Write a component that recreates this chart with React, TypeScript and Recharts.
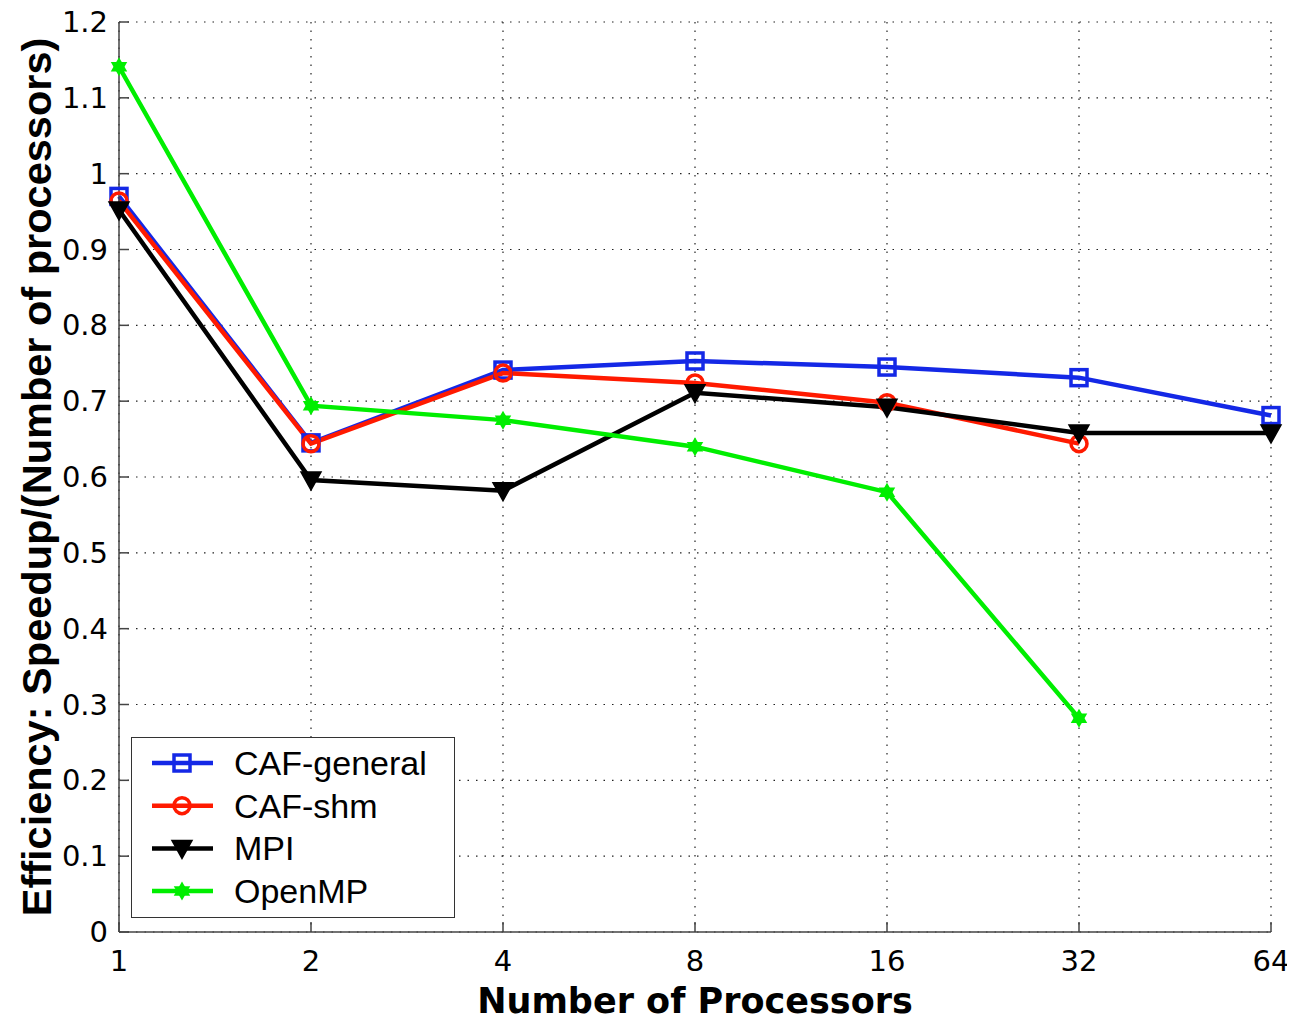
import React from "react";
import { LineChart, Line, XAxis, YAxis, CartesianGrid } from "recharts";

const procs = [1, 2, 4, 8, 16, 32, 64];
const cafGeneral = [0.97, 0.645, 0.741, 0.753, 0.745, 0.731, 0.681];
const cafShm = [0.964, 0.644, 0.737, 0.724, 0.698, 0.644, null];
const mpi = [0.952, 0.596, 0.582, 0.711, 0.692, 0.658, 0.658];
const openmp = [1.141, 0.694, 0.675, 0.64, 0.58, 0.282, null];
const yTicks = [0, 0.1, 0.2, 0.3, 0.4, 0.5, 0.6, 0.7, 0.8, 0.9, 1, 1.1, 1.2];

const C = { blue: "#1428e6", red: "#ff1a00", black: "#000", green: "#00ee00", axis: "#444", grid: "#222" };

const data = procs.map((p, i) => ({
  i,
  cafGeneral: cafGeneral[i],
  cafShm: cafShm[i],
  mpi: mpi[i],
  openmp: openmp[i],
}));

const TICK_FONT = "'DejaVu Sans', sans-serif";

// marker shapes, MATLAB style
function marker(kind: string, color: string, cx: number, cy: number, key?: any) {
  if (kind === "square")
    return <rect key={key} x={cx - 8} y={cy - 8} width={16} height={16} fill="none" stroke={color} strokeWidth={3.5} />;
  if (kind === "circle")
    return <circle key={key} cx={cx} cy={cy} r={8} fill="none" stroke={color} strokeWidth={3.5} />;
  if (kind === "tri")
    return <path key={key} d={`M${cx - 10},${cy - 8} L${cx + 10},${cy - 8} L${cx},${cy + 10} Z`} fill={color} stroke={color} strokeWidth={1.5} />;
  // hexagram
  const r = 9.5;
  const pts = (off: number) =>
    [0, 1, 2].map((k) => {
      const a = off + (k * 2 * Math.PI) / 3;
      return `${cx + r * Math.cos(a)},${cy + r * Math.sin(a)}`;
    }).join(" ");
  return (
    <g key={key}>
      <polygon points={pts(-Math.PI / 2)} fill={color} />
      <polygon points={pts(Math.PI / 2)} fill={color} />
    </g>
  );
}

const dot = (kind: string, color: string) => (props: any) => {
  const { cx, cy, index } = props;
  if (cx == null || cy == null || isNaN(cy)) return <g key={index} />;
  return marker(kind, color, cx, cy, index);
};

const YTick = (props: any) => {
  const { x, y, payload } = props;
  return (
    <g>
      <line x1={x} x2={x + 10} y1={y} y2={y} stroke={C.axis} strokeWidth={1.5} />
      <text x={x - 11} y={y} textAnchor="end" dominantBaseline="central" fontFamily={TICK_FONT} fontSize={29} fill="#000">
        {payload.value}
      </text>
    </g>
  );
};

const YTickRight = (props: any) => {
  const { x, y } = props;
  return <line x1={x - 10} x2={x} y1={y} y2={y} stroke={C.axis} strokeWidth={1.5} />;
};

const XTick = (props: any) => {
  const { x, y, payload } = props;
  return (
    <g>
      <line x1={x} x2={x} y1={y} y2={y - 10} stroke={C.axis} strokeWidth={1.5} />
      <text x={x} y={y + 29} textAnchor="middle" dominantBaseline="central" fontFamily={TICK_FONT} fontSize={29} fill="#000">
        {procs[payload.value]}
      </text>
    </g>
  );
};

const XTickTop = (props: any) => {
  const { x, y } = props;
  return <line x1={x} x2={x} y1={y} y2={y + 10} stroke={C.axis} strokeWidth={1.5} />;
};

const legendItems = [
  { name: "CAF-general", color: C.blue, kind: "square" },
  { name: "CAF-shm", color: C.red, kind: "circle" },
  { name: "MPI", color: C.black, kind: "tri" },
  { name: "OpenMP", color: C.green, kind: "star" },
];

function LegendBox() {
  return (
    <div
      style={{
        position: "absolute",
        left: 123,
        top: 737,
        width: 324,
        height: 181,
        border: "1.5px solid #333",
        boxSizing: "border-box",
        background: "#fff",
      }}
    >
      <svg width={321} height={178}>
        {legendItems.map((it, k) => {
          const cy = 25 + k * 42.7;
          return (
            <g key={it.name}>
              <line x1={20} x2={81} y1={cy} y2={cy} stroke={it.color} strokeWidth={4.5} />
              {marker(it.kind, it.color, 50, cy)}
              <text x={102} y={cy} dominantBaseline="central" fontFamily="'Liberation Sans', Arial, sans-serif" fontSize={34} fill="#000">
                {it.name}
              </text>
            </g>
          );
        })}
      </svg>
    </div>
  );
}

const YLabel = (props: any) => {
  const { viewBox } = props;
  const cx = 28;
  const cy = viewBox.y + viewBox.height / 2;
  return (
    <text
      x={cx}
      y={cy}
      transform={`rotate(-90 ${cx} ${cy})`}
      textAnchor="middle"
      dominantBaseline="central"
      fontFamily="'Liberation Sans', Arial, sans-serif"
      fontWeight={700}
      fontSize={41.5}
      fill="#000"
    >
      Efficiency: Speedup/(Number of processors)
    </text>
  );
};

export default function App() {
  return (
    <div style={{ position: "relative", width: 1287, height: 1021, marginTop: -8, background: "#fff" }}>
      <LineChart
        width={1287}
        height={1021}
        data={data}
        margin={{ top: 22, right: 24, left: 0, bottom: 8 }}
      >
        <CartesianGrid stroke={C.grid} strokeDasharray="1.5 7" strokeWidth={1.2} />
        <XAxis
          dataKey="i"
          type="number"
          domain={[0, 6]}
          ticks={[0, 1, 2, 3, 4, 5, 6]}
          height={81}
          tick={<XTick />}
          tickLine={false}
          tickSize={0}
          tickMargin={0}
          stroke={C.axis}
          strokeWidth={1.5}
          label={{
            value: "Number of Processors",
            position: "insideBottom",
            offset: 0,
            style: { fontFamily: "'DejaVu Sans', sans-serif", fontWeight: 700, fontSize: 35, fill: "#000" },
          }}
        />
        <XAxis
          xAxisId="top"
          orientation="top"
          dataKey="i"
          type="number"
          domain={[0, 6]}
          ticks={[0, 1, 2, 3, 4, 5, 6]}
          height={0}
          tick={<XTickTop />}
          tickLine={false}
          tickSize={0}
          tickMargin={0}
          stroke={C.axis}
          strokeWidth={1.5}
        />
        <YAxis
          type="number"
          domain={[0, 1.2]}
          ticks={yTicks}
          width={111}
          tick={<YTick />}
          tickLine={false}
          tickSize={0}
          tickMargin={0}
          stroke={C.axis}
          strokeWidth={1.5}
          label={<YLabel />}
        />
        <YAxis
          yAxisId="right"
          orientation="right"
          type="number"
          domain={[0, 1.2]}
          ticks={yTicks}
          width={0}
          tick={<YTickRight />}
          tickLine={false}
          tickSize={0}
          tickMargin={0}
          stroke={C.axis}
          strokeWidth={1.5}
        />
        <Line dataKey="cafGeneral" stroke={C.blue} strokeWidth={4.5} dot={dot("square", C.blue)} isAnimationActive={false} />
        <Line dataKey="cafShm" stroke={C.red} strokeWidth={4.5} dot={dot("circle", C.red)} isAnimationActive={false} />
        <Line dataKey="mpi" stroke={C.black} strokeWidth={4.5} dot={dot("tri", C.black)} isAnimationActive={false} />
        <Line dataKey="openmp" stroke={C.green} strokeWidth={4.5} dot={dot("star", C.green)} isAnimationActive={false} />
      </LineChart>
      <LegendBox />
    </div>
  );
}
